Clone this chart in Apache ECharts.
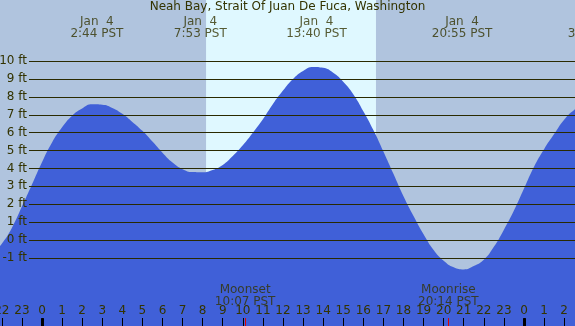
<!DOCTYPE html>
<html>
<head>
<meta charset="utf-8">
<script src="https://cdn.jsdelivr.net/npm/echarts@6/dist/echarts.min.js"></script>
<style>html,body{margin:0;padding:0;background:#b0c4de;}#c{width:575px;height:326px;}</style>
</head>
<body>
<div id="c"></div>
<script>
// Tide curve: hours from midnight Jan 4 (PST), height in ft
var tideHours = [-2.5,-2.0,-1.5,-1.0,-0.5,0.0,0.5,1.0,1.5,2.0,2.5,3.0,3.5,4.0,4.5,5.0,5.5,6.0,6.5,7.0,7.5,8.0,8.5,9.0,9.5,10.0,10.5,11.0,11.5,12.0,12.5,13.0,13.5,14.0,14.5,15.0,15.5,16.0,16.5,17.0,17.5,18.0,18.5,19.0,19.5,20.0,20.5,21.0,21.5,22.0,22.5,23.0,23.5,24.0,24.5,25.0,25.5,26.0,26.5,27.0];
var tideFeet  = [-0.85,-0.2,0.68,1.87,3.1,4.35,5.45,6.3,6.95,7.35,7.58,7.56,7.38,7.05,6.6,6.1,5.5,4.88,4.33,3.96,3.8,3.79,3.92,4.2,4.7,5.3,6.0,6.75,7.6,8.35,9.0,9.45,9.67,9.62,9.35,8.85,8.15,7.2,6.15,4.95,3.7,2.45,1.35,0.33,-0.55,-1.15,-1.52,-1.64,-1.45,-1.1,-0.38,0.58,1.65,2.88,4.1,5.08,5.92,6.72,7.27,7.55];

var gridFeet = [-1,0,1,2,3,4,5,6,7,8,9,10];
var hourTicks = [-2,-1,0,1,2,3,4,5,6,7,8,9,10,11,12,13,14,15,16,17,18,19,20,21,22,23,24,25,26];
var midnightHours = [0, 24];

var extremeHours = [2.733, 7.883, 13.667, 20.917, 27.5];
var extremeDates = ["Jan  4","Jan  4","Jan  4","Jan  4","Jan  5"];
var extremeTimes = ["2:44 PST","7:53 PST","13:40 PST","20:55 PST","3:30 PST"];

var sunrise = 8.17, sunset = 16.63;
var moonEvents = [{name:"Moonset", hour:10.117, time:"10:07 PST"},{name:"Moonrise", hour:20.233, time:"20:14 PST"}];

var title = "Neah Bay, Strait Of Juan De Fuca, Washington";

var xMin = -2.09, xMax = 26.54, yMin = -4.8, yMax = 13.41;
var txt = '#333300';
var font = 'DejaVu Sans';

var chart = echarts.init(document.getElementById('c'), null, {renderer:'canvas'});
var tideData = tideHours.map(function(h,i){return [h, tideFeet[i]];});
var labelStyle = {show:true, position:'inside', color:txt, fontSize:12, lineHeight:12, fontFamily:font, align:'center'};

chart.setOption({
  backgroundColor:'#b0c4de',
  animation:false,
  textStyle:{fontFamily:font},
  title:{text:title, left:'center', top:1, padding:0, textStyle:{fontSize:12, fontWeight:'normal', color:txt, fontFamily:font}},
  grid:{left:0,right:0,top:0,bottom:0, containLabel:false, outerBoundsMode:'none'},
  xAxis:{type:'value', min:xMin, max:xMax, splitLine:{show:false}, z:10,
    axisLine:{show:false, onZero:false},
    axisTick:{show:true, inside:true, length:8, customValues:hourTicks, lineStyle:{color:'#000', width:1}},
    axisLabel:{show:true, inside:true, margin:9, customValues:hourTicks, color:txt, fontSize:12, fontFamily:font,
      hideOverlap:false, showMinLabel:true, showMaxLabel:true,
      formatter:function(v){return String(((Math.round(v)%24)+24)%24);}}
  },
  yAxis:{type:'value', min:yMin, max:yMax, show:false, splitLine:{show:false}},
  series:[
    {type:'line', data:[], z:1, silent:true,
      markArea:{silent:true, itemStyle:{color:'#dff8ff'}, data:[[{coord:[sunrise,yMin]},{coord:[sunset,yMax]}]]}},
    {type:'line', data:tideData, z:2, smooth:0.5, clip:true, showSymbol:false, silent:true,
      lineStyle:{width:0, color:'#4060d8'}, areaStyle:{color:'#4060d8', opacity:1, origin:'start'}},
    {type:'line', data:[], z:3, silent:true,
      markLine:{silent:true, symbol:'none', animation:false,
        data: gridFeet.map(function(v){return [{coord:[-0.647, v], lineStyle:{color:'#2a2a00', width:1, type:'solid'},
            label:{show:true, position:'start', distance:2, formatter:v+' ft', color:txt, fontSize:12, fontFamily:font}},
          {coord:[xMax, v]}];})
          .concat(midnightHours.map(function(h){return [{coord:[h, yMin], lineStyle:{color:'#000', width:3, type:'solid'}, label:{show:false}},{coord:[h, -4.36]}];}))
          .concat(moonEvents.map(function(m){return [{coord:[m.hour, yMin], lineStyle:{color:'#e00000', width:1, type:'solid'}, label:{show:false}},{coord:[m.hour, -4.36]}];}))
      }
    },
    {type:'scatter', z:4, clip:false, silent:true, symbolSize:0,
      data: extremeHours.map(function(h,i){return {value:[h, 11.84], label:Object.assign({formatter:extremeDates[i]+'\n'+extremeTimes[i]}, labelStyle)};})
        .concat(moonEvents.map(function(m){return {value:[m.hour, -3.1], label:Object.assign({formatter:m.name+'\n'+m.time}, labelStyle)};})),
      label:labelStyle
    }
  ]
});
</script>
</body>
</html>
